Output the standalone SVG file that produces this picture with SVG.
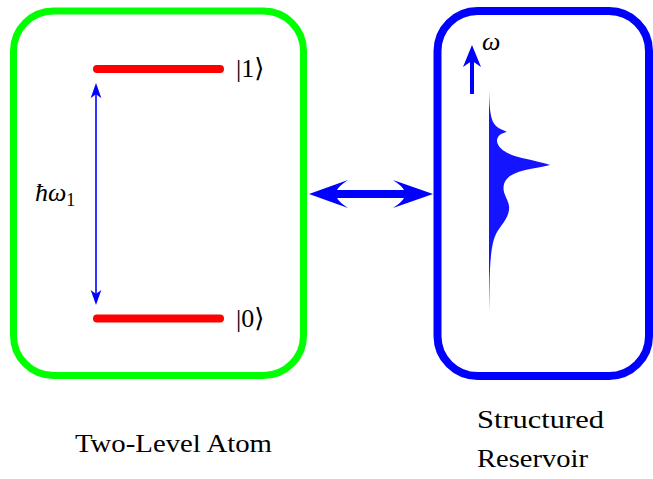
<svg xmlns="http://www.w3.org/2000/svg" width="653" height="479" viewBox="0 0 653 479">
<style>
  .t { fill: #000; font-family: 'Liberation Serif', 'Times New Roman', Times, 'DejaVu Serif', 'Noto Serif', serif; }
  .it { font-style: italic; }
  .level { stroke: #ff0000; stroke-width: 8; stroke-linecap: round; fill: none; }
  .box { fill: none; }
</style>
<rect x="0" y="0" width="653" height="479" fill="#ffffff"/>
<g id="atom">
  <rect class="box" x="13.5" y="11" width="290" height="364.5" rx="40" ry="40" stroke="#00ff00" stroke-width="7"/>
  <line class="level" x1="97" y1="69" x2="220" y2="69"/>
  <line class="level" x1="97" y1="318.5" x2="220" y2="318.5"/>
  <line x1="96" y1="94" x2="96" y2="294" stroke="#0000ff" stroke-width="1.6"/>
  <path d="M96,83 L101.3,98 Q97,95 96,94 Q95,95 90.7,98 Z" fill="#0000ff"/>
  <path d="M96,305 L101.3,290 Q97,293 96,294 Q95,293 90.7,290 Z" fill="#0000ff"/>
  <text class="t" x="236" y="77" font-size="26">|1⟩</text>
  <text class="t" x="236" y="327" font-size="26">|0⟩</text>
  <text class="t it" x="35" y="201" font-size="26">ħω<tspan font-style="normal" font-size="18" dy="5">1</tspan></text>
  <text class="t" x="75" y="452" font-size="26" textLength="197" lengthAdjust="spacingAndGlyphs">Two-Level Atom</text>
</g>
<g id="reservoir">
  <rect class="box" x="437.5" y="11" width="211.5" height="365" rx="40" ry="40" stroke="#0000ff" stroke-width="8"/>
  <line x1="472" y1="94" x2="472" y2="60" stroke="#0000ff" stroke-width="4"/>
  <path d="M472,45 L481,67 Q474,62 472,61 Q470,62 463,67 Z" fill="#0000ff"/>
  <text class="t it" x="482" y="50" font-size="26">ω</text>
  <path d="M489,90 C489.5,108 490,120 496,126 C499,129 504,130 507,132 C501,133 497,136 497,141 C498,150 510,155 522,158 C535,161 545,163 550,165 C540,168 520,169 510,176 C503,181 503,188 504,192 C506,199 510,203 509,210 C508,219 500,226 496,234 C491,244 490,262 489.5,285 L489,312 Z" fill="#1414ff"/>
  <text class="t" x="477" y="428" font-size="26" textLength="127" lengthAdjust="spacingAndGlyphs">Structured</text>
  <text class="t" x="477" y="467" font-size="26" textLength="111" lengthAdjust="spacingAndGlyphs">Reservoir</text>
</g>
<g id="connectors">
  <path d="M309,194 L348,180 Q339,186 337,190 L404,190 Q402,186 393,180 L433,194 L393,208 Q402,202 404,198 L337,198 Q339,202 348,208 Z" fill="#0000ff"/>
</g>
</svg>
